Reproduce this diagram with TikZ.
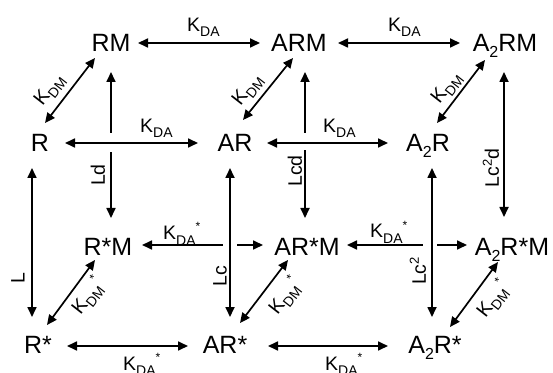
\documentclass[tikz,border=0pt]{standalone}
\usepackage{fontspec}
\setmainfont{Liberation Sans}
\usetikzlibrary{arrows.meta,calc}
\newcommand{\ssub}[1]{\raisebox{-6pt}{\fontsize{16}{16}\selectfont #1}}
\newcommand{\Kl}[2]{K\raisebox{-5pt}{\fontsize{14}{14}\selectfont #1}\raisebox{9pt}{\fontsize{12}{12}\selectfont #2}}
\newcommand{\sqsup}[1]{\raisebox{7pt}{\fontsize{13}{13}\selectfont #1}}
\begin{document}
\begin{tikzpicture}[x=1pt,y=1pt,
  sp/.style={font=\fontsize{25}{25}\selectfont, inner sep=0pt, text height=18pt, text depth=0pt},
  lb/.style={font=\fontsize{19.5}{19.5}\selectfont, inner sep=0pt},
  dbl/.style={line width=1.7pt, {Triangle[length=10pt,width=9pt]}-{Triangle[length=10pt,width=9pt]}},
  gap/.style={fill=white}]
\useasboundingbox (0,0) rectangle (553,372);
% species
\node[sp] (RM) at (111,329) {RM};
\node[sp] (ARM) at (299,329) {ARM};
\node[sp] (A2RM) at (505,329) {A\ssub{2}RM};
\node[sp] (R) at (40,229) {R};
\node[sp] (AR) at (235,229) {AR};
\node[sp] (A2R) at (428,229) {A\ssub{2}R};
\node[sp] (RsM) at (108,126) {R*M};
\node[sp] (ARsM) at (307,126) {AR*M};
\node[sp] (A2RsM) at (512,126) {A\ssub{2}R*M};
\node[sp] (Rs) at (38,28) {R*};
\node[sp] (ARs) at (225,28) {AR*};
\node[sp] (A2Rs) at (435,28) {A\ssub{2}R*};
% verticals under crossings
\draw[dbl] ([shift={(0,-29)}]RM.center) -- ([shift={(3,28)}]RsM.center);
\draw[dbl] ([shift={(6,-29)}]ARM.center) -- ([shift={(-2,28)}]ARsM.center);
\fill[gap] (107,220) rectangle (115,239);
\fill[gap] (301,222) rectangle (309,239);
\draw[dbl] ([shift={(-1,-29)}]A2RM.center) -- ([shift={(-8,29)}]A2RsM.center);
\draw[dbl] ([shift={(-8,-25)}]R.center) -- ([shift={(-6,27)}]Rs.center);
% horizontals
\draw[dbl] ([shift={(27,0)}]RM.center) -- ([shift={(-39,0)}]ARM.center);
\draw[dbl] ([shift={(39,0)}]ARM.center) -- ([shift={(-45,0)}]A2RM.center);
\draw[dbl] ([shift={(25,0)}]R.center) -- ([shift={(-37,0)}]AR.center);
\draw[dbl] ([shift={(32,0)}]AR.center) -- ([shift={(-40,0)}]A2R.center);
\draw[dbl] ([shift={(34,1)}]RsM.center) -- ([shift={(-44,1)}]ARsM.center);
\draw[dbl] ([shift={(40,1)}]ARsM.center) -- ([shift={(-45,1)}]A2RsM.center);
\draw[dbl] ([shift={(29,-2)}]Rs.center) -- ([shift={(-37,-2)}]ARs.center);
\draw[dbl] ([shift={(43,-2)}]ARs.center) -- ([shift={(-47,-2)}]A2Rs.center);
\fill[gap] (223,122) rectangle (237,132);
\fill[gap] (423,122) rectangle (437,132);
\draw[dbl] ([shift={(-5,-25)}]AR.center) -- ([shift={(5,27)}]ARs.center);
\draw[dbl] ([shift={(4,-25)}]A2R.center) -- ([shift={(-3,27)}]A2Rs.center);
% diagonals
\draw[dbl] ([shift={(-16,-15)}]RM.center) -- ([shift={(5,20)}]R.center);
\draw[dbl] ([shift={(-6,-15)}]ARM.center) -- ([shift={(8,23)}]AR.center);
\draw[dbl] ([shift={(-20,-17)}]A2RM.center) -- ([shift={(9,20)}]A2R.center);
\draw[dbl] ([shift={(-13,-14)}]RsM.center) -- ([shift={(9,19)}]Rs.center);
\draw[dbl] ([shift={(-19,-14)}]ARsM.center) -- ([shift={(15,21)}]ARs.center);
\draw[dbl] ([shift={(-14,-16)}]A2RsM.center) -- ([shift={(15,17)}]A2Rs.center);
% horizontal labels
\node[lb, anchor=base west] (k1) at (187,340) {\Kl{DA}{}};
\node[lb, anchor=base west] (k2) at (388,340) {\Kl{DA}{}};
\node[lb, anchor=base west] (k3) at (140,239) {\Kl{DA}{}};
\node[lb, anchor=base west] (k4) at (323,239) {\Kl{DA}{}};
\node[lb, anchor=base west] (k5) at (163,132) {\Kl{DA}{*}};
\node[lb, anchor=base west] (k6) at (370,134) {\Kl{DA}{*}};
\node[lb, anchor=base west] (k7) at (123,2) {\Kl{DA}{*}};
\node[lb, anchor=base west] (k8) at (325,2) {\Kl{DA}{*}};
% vertical labels
\node[lb, rotate=90] (l1) at (98,197) {Ld};
\node[lb, rotate=90] (l2) at (295,201) {Lcd};
\node[lb, rotate=90] (l3) at (491,204) {Lc\sqsup{2}d};
\node[lb, rotate=90] (l4) at (18,94) {L};
\node[lb, rotate=90] (l5) at (220,96) {Lc};
\node[lb, rotate=90] (l6) at (418,101) {Lc\sqsup{2}};
% diagonal labels
\node[lb, rotate=52] (m1) at (50,282) {\Kl{DM}{}};
\node[lb, rotate=52] (m2) at (248,282) {\Kl{DM}{}};
\node[lb, rotate=52] (m3) at (447,284) {\Kl{DM}{}};
\node[lb, rotate=52] (m4) at (88,76) {\Kl{DM}{*}};
\node[lb, rotate=52] (m5) at (285,76) {\Kl{DM}{*}};
\node[lb, rotate=52] (m6) at (493,73) {\Kl{DM}{*}};
\end{tikzpicture}
\end{document}
